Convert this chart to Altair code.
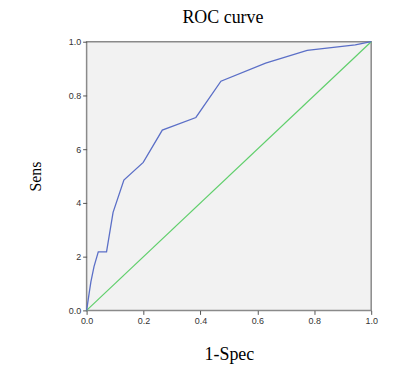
import altair as alt
import pandas as pd

# ROC curve values
fpr = [0.0, 0.009, 0.015, 0.026, 0.041, 0.070, 0.093, 0.131, 0.199, 0.266, 0.384, 0.472, 0.629, 0.775, 0.944, 1.0]
tpr = [0.0, 0.064, 0.106, 0.163, 0.218, 0.218, 0.365, 0.485, 0.551, 0.671, 0.718, 0.853, 0.920, 0.968, 0.988, 1.0]

# reference (diagonal) line
ref_x = [0.0, 1.0]
ref_y = [0.0, 1.0]

tick_values = [0.0, 0.2, 0.4, 0.6, 0.8, 1.0]
y_tick_labels = ["0.0", "2", "4", "6", "0.8", "1.0"]
chart_title = ["ROC curve"]

roc = pd.DataFrame({"fpr": fpr, "tpr": tpr, "order": list(range(len(fpr)))})
diag = pd.DataFrame({"fpr": ref_x, "tpr": ref_y, "order": [0, 1]})
title_df = pd.DataFrame({"t": chart_title})

expr = ""
for v, lab in zip(tick_values, y_tick_labels):
    expr += f"format(datum.value, '.1f') == '{v:.1f}' ? '{lab}' : "
expr += "''"

x_enc = alt.X("fpr:Q", scale=alt.Scale(domain=[0, 1], nice=False),
              axis=alt.Axis(values=tick_values, format=".1f", title="1-Spec",
                            titleY=49, titleBaseline="alphabetic",
                            titleFontSize=18))
y_enc = alt.Y("tpr:Q", scale=alt.Scale(domain=[0, 1], nice=False),
              axis=alt.Axis(values=tick_values, labelExpr=expr, title="Sens",
                            titleX=-43, titleY=135, titleBaseline="bottom",
                            titleFontSize=16))

line = alt.Chart(roc).mark_line(color="#5b6fc7", strokeWidth=1.3).encode(
    x=x_enc, y=y_enc, order="order:Q")
ref = alt.Chart(diag).mark_line(color="#5fcf6b", strokeWidth=1.2).encode(
    x="fpr:Q", y="tpr:Q", order="order:Q")
title = alt.Chart(title_df).mark_text(
    font="Liberation Serif", fontSize=18, color="#000000",
    baseline="top", align="center"
).encode(text="t:N", x=alt.value(137), y=alt.value(-33))

chart = alt.layer(ref, line, title).properties(
    width=286, height=270,
    autosize=alt.AutoSizeParams(type="none"),
    padding={"left": 79, "top": 33, "right": 40, "bottom": 56},
).configure_view(
    fill="#f2f2f2", stroke="#8a8a8a", strokeWidth=1.5
).configure_axis(
    grid=False, domain=False, tickSize=4, tickColor="#555555", tickWidth=1,
    labelFont="Liberation Sans", labelFontSize=9, labelColor="#333333",
    labelPadding=2, labelFlush=False,
    titleFont="Liberation Serif", titleFontWeight="normal", titleColor="#000000",
)

chart.save("out.html", embed_options={"renderer": "svg", "actions": False})
